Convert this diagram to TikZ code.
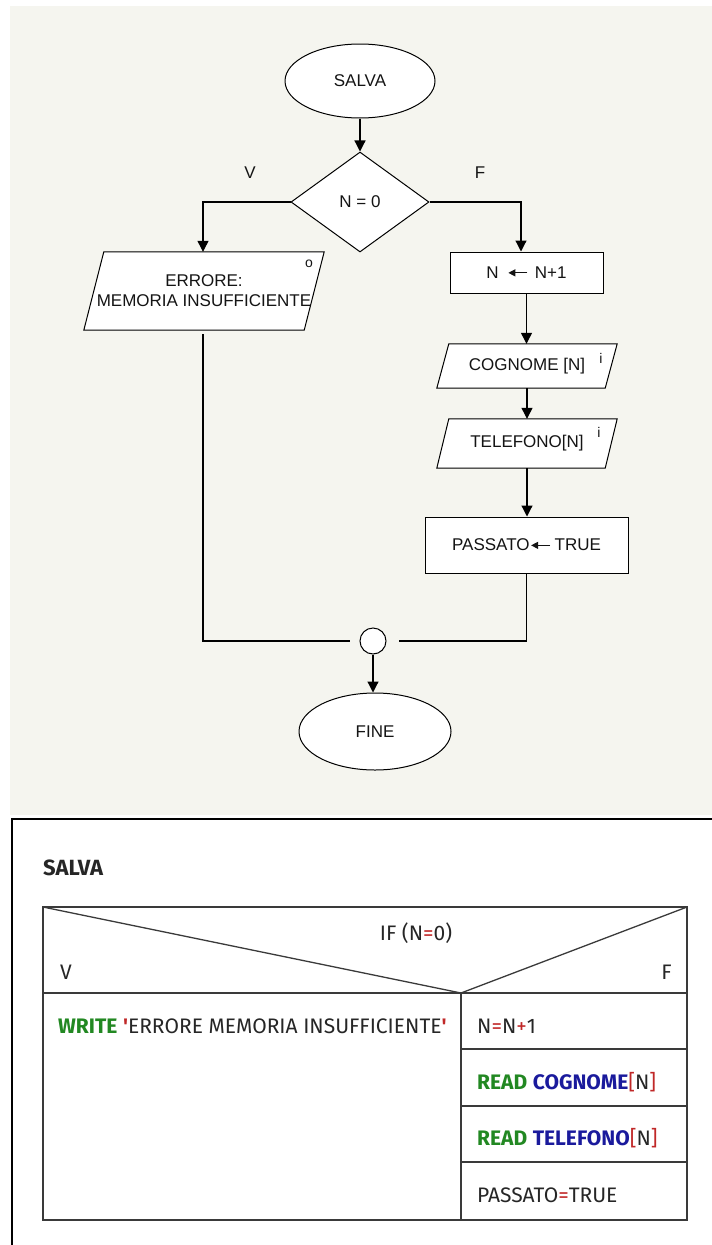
\documentclass[tikz,border=0pt]{standalone}
\usepackage{fontspec}
\setmainfont{Liberation Sans}
\newfontfamily\nsdfont{Fira Sans}
\usetikzlibrary{arrows.meta,shapes.geometric}

\definecolor{paper}{HTML}{F5F5EF}
\definecolor{ink}{HTML}{141414}
\definecolor{kwgreen}{HTML}{228822}
\definecolor{varblue}{HTML}{1A1A9C}
\definecolor{opred}{HTML}{C02828}
\definecolor{gridgray}{HTML}{3A3A3A}

% coloured pieces of the structogram code
\newcommand{\kwd}[1]{\textcolor{kwgreen}{\bfseries #1}}
\newcommand{\vname}[1]{\textcolor{varblue}{\bfseries #1}}
\newcommand{\opr}[1]{\textcolor{opred}{#1}}
% assignment arrow used inside the flowchart boxes
\newcommand{\asgn}{\tikz[baseline=-5.5pt]\draw[line width=1.1pt,-{Triangle[length=7pt,width=7pt]}] (19pt,0pt) -- (0pt,0pt);}

\pgfdeclarelayer{back}
\pgfsetlayers{back,main}

\begin{document}
\begin{tikzpicture}[x=1pt,y=-1pt,
  flowtext/.style={font=\fontsize{17}{21}\selectfont, text=ink},
  flow/.style={draw=black, line width=1.2pt},
  arr/.style={flow,-{Triangle[length=11pt,width=11pt]}},
  outline/.style={draw=black, line width=1pt, fill=white},
  term/.style={ellipse, outline, inner sep=0pt, flowtext},
  procbox/.style={rectangle, outline, inner sep=0pt, flowtext},
  iobox/.style={rectangle, inner sep=0pt, flowtext, align=center},
  iomark/.style={font=\fontsize{14}{14}\selectfont, text=ink, inner sep=0pt},
  nsdtext/.style={font=\nsdfont\fontsize{21}{25}\selectfont, text=black!85, inner sep=0pt},
  grid/.style={draw=gridgray, line width=1.3pt},
]
\useasboundingbox (0,0) rectangle (712,1245);

% ---------------- flowchart ----------------
\node[term, minimum width=150pt, minimum height=74pt] (start) at (360,81) {SALVA};
\node[diamond, outline, inner sep=0pt, aspect=1.38, minimum width=138pt, minimum height=100pt, flowtext] (cond) at (360,202) {N = 0};
\node[flowtext] (lblv) at (250,173) {V};
\node[flowtext] (lblf) at (480,173) {F};

\coordinate (lturn) at (203,202);
\coordinate (rturn) at (521,202);

\node[iobox, minimum width=220pt, minimum height=78pt] (err) at (204,291) {ERRORE:\\[-1pt]MEMORIA INSUFFICIENTE};
\node[iomark] (errmark) at (309,264) {o};

\node[procbox, minimum width=153pt, minimum height=41pt] (inc) at (526.5,272.5) {N\hspace{9pt}\asgn\hspace{7pt}N+1};
\node[iobox, minimum width=168pt, minimum height=44pt] (cogn) at (527,366) {COGNOME [N]};
\node[iomark] (cognmark) at (601,358) {i};
\node[iobox, minimum width=168pt, minimum height=49pt] (tel) at (527,443.5) {TELEFONO[N]};
\node[iomark] (telmark) at (599,432) {i};
\node[procbox, minimum width=203pt, minimum height=56pt] (pass) at (526.5,545) {PASSATO\hspace{1pt}\asgn\hspace{4pt}TRUE};

\node[circle, outline, minimum size=26pt, inner sep=0pt] (jn) at (373,641) {};
\coordinate (jl) at (350,641);
\coordinate (jr) at (399,641);
\node[term, minimum width=152pt, minimum height=77pt] (fine) at (375,731.5) {FINE};

% input/output parallelograms and the paper behind the flowchart
\begin{pgfonlayer}{back}
  \fill[paper] (10,6) rectangle (712,815);
  \draw[outline] ([xshift=10pt]err.north west) -- ([xshift=10pt]err.north east)
      -- ([xshift=-10pt]err.south east) -- ([xshift=-10pt]err.south west) -- cycle;
  \draw[outline] ([xshift=6pt]cogn.north west) -- ([xshift=6pt]cogn.north east)
      -- ([xshift=-6pt]cogn.south east) -- ([xshift=-6pt]cogn.south west) -- cycle;
  \draw[outline] ([xshift=6pt]tel.north west) -- ([xshift=6pt]tel.north east)
      -- ([xshift=-6pt]tel.south east) -- ([xshift=-6pt]tel.south west) -- cycle;
\end{pgfonlayer}

% connectors
\draw[arr] (start) -- (cond);
\draw[arr] (cond.west) -- (lturn) -- (lturn |- err.north);
\draw[arr] (cond.east) -- (rturn) -- (rturn |- inc.north);
\draw[arr] (inc.south) -- (inc.south |- cogn.north);
\draw[arr] (cogn.south) -- (cogn.south |- tel.north);
\draw[arr] (tel.south) -- (tel.south |- pass.north);
\draw[flow] ([yshift=-4pt]lturn |- err.south) -- (lturn |- jl) -- (jl);
\draw[flow] (pass.south) -- (pass.south |- jr) -- (jr);
\draw[arr] (jn.south) -- (jn.south |- fine.north);

% ---------------- structogram ----------------
\draw[black, line width=1.4pt] (12,1245) -- (12,819) -- (712,819);
\node[nsdtext, font=\nsdfont\bfseries\fontsize{22}{26}\selectfont, anchor=base west] (title) at (43,875) {SALVA};

\coordinate (tl) at (43,907);
\coordinate (tr) at (687,907);
\coordinate (bl) at (43,1220);
\coordinate (br) at (687,1220);
\coordinate (vtx) at (461,993);
\coordinate (r1) at (687,1049);
\coordinate (r2) at (687,1106);
\coordinate (r3) at (687,1162);

\draw[grid] (tl) rectangle (br);
\draw[grid] (tl |- vtx) -- (tr |- vtx);
\draw[grid] (tl) -- (vtx) -- (tr);
\draw[grid] (vtx) -- (vtx |- bl);
\draw[grid] (vtx |- r1) -- (r1);
\draw[grid] (vtx |- r2) -- (r2);
\draw[grid] (vtx |- r3) -- (r3);

\node[nsdtext, anchor=base] (iftext) at (416,940.5) {IF (N\opr{=}0)};
\node[nsdtext, anchor=base west] (vtext) at (60,979.5) {V};
\node[nsdtext, anchor=base east] (ftext) at (672,979.5) {F};

\node[nsdtext, anchor=base west] (wr) at (58,1033.5) {\kwd{WRITE} \opr{\bfseries '}ERRORE MEMORIA INSUFFICIENTE\opr{\bfseries '}};
\node[nsdtext, anchor=base west] (s1) at (477,1033.5) {N\opr{=}N\opr{+}1};
\node[nsdtext, anchor=base west] (s2) at (477,1089.5) {\kwd{READ} \vname{COGNOME}\opr{[}N\opr{]}};
\node[nsdtext, anchor=base west] (s3) at (477,1145.5) {\kwd{READ} \vname{TELEFONO}\opr{[}N\opr{]}};
\node[nsdtext, anchor=base west] (s4) at (477,1202.5) {PASSATO\opr{=}TRUE};
\end{tikzpicture}
\end{document}
